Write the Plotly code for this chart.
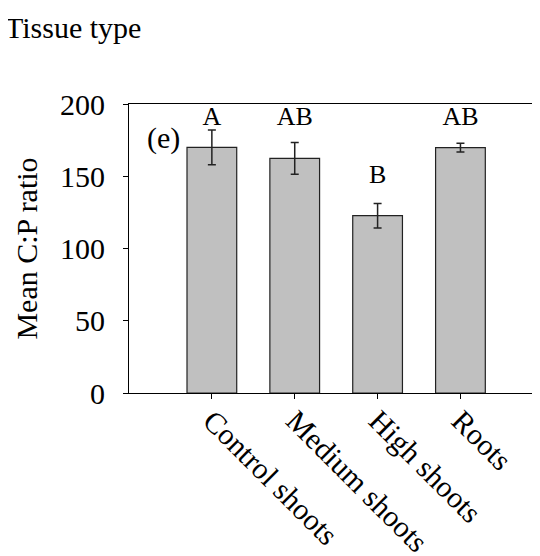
import plotly.graph_objects as go

categories = ["Control shoots", "Medium shoots", "High shoots", "Roots"]
means = [170.0, 162.4, 122.7, 169.8]
errors = [12.0, 11.0, 8.5, 3.0]
letters = ["A", "AB", "B", "AB"]
letter_y = [190.3, 190.3, 149.5, 190.3]
y_ticks = [0, 50, 100, 150, 200]

FONT = "Liberation Serif"
x_idx = list(range(len(categories)))

fig = go.Figure()
fig.add_trace(go.Bar(
    x=x_idx, y=means, width=0.6,
    marker=dict(color="#C0C0C0", line=dict(color="#222222", width=1.2)),
    error_y=dict(type="data", array=errors, visible=True, color="#222222", thickness=1.5, width=4),
    showlegend=False,
))
fig.add_trace(go.Scatter(
    x=x_idx, y=letter_y, mode="text", text=letters,
    textfont=dict(family=FONT, size=26, color="black"), textposition="middle center",
    showlegend=False, hoverinfo="skip",
))

fig.add_annotation(x=-0.81, y=176.5, xref="x", yref="y", text="(e)", showarrow=False,
                   xanchor="left", yanchor="middle", font=dict(family=FONT, size=30, color="black"))
fig.add_annotation(x=-126/411, y=(393-28)/289, xref="paper", yref="paper", text="Tissue type",
                   showarrow=False, xanchor="left", yanchor="middle",
                   font=dict(family=FONT, size=30, color="black"))

# the page body adds an 8px offset; compensate in figure size/margins
fig.update_layout(
    width=532, height=548,
    margin=dict(l=121, r=0, t=96, b=163, autoexpand=False),
    plot_bgcolor="white", paper_bgcolor="white",
    font=dict(family=FONT, size=30, color="black"),
    bargap=0.4,
)
fig.update_xaxes(
    range=[-1, 3.96], tickvals=x_idx, ticktext=categories, tickangle=45,
    showline=True, linecolor="black", linewidth=1.2, mirror=True, automargin=False,
    ticks="outside", ticklen=5, tickcolor="black", showgrid=False, zeroline=False,
    tickfont=dict(family=FONT, size=30), ticklabelstandoff=-8,
)
fig.update_yaxes(
    range=[0, 200], tickvals=y_ticks, automargin=False,
    showline=True, linecolor="black", linewidth=1.2,
    ticks="outside", ticklen=5, tickcolor="black", showgrid=False, zeroline=False,
    title=dict(text="Mean C:P ratio", font=dict(family=FONT, size=30), standoff=13),
    tickfont=dict(family=FONT, size=30), ticklabelstandoff=12,
)

fig.write_html("out.html")
